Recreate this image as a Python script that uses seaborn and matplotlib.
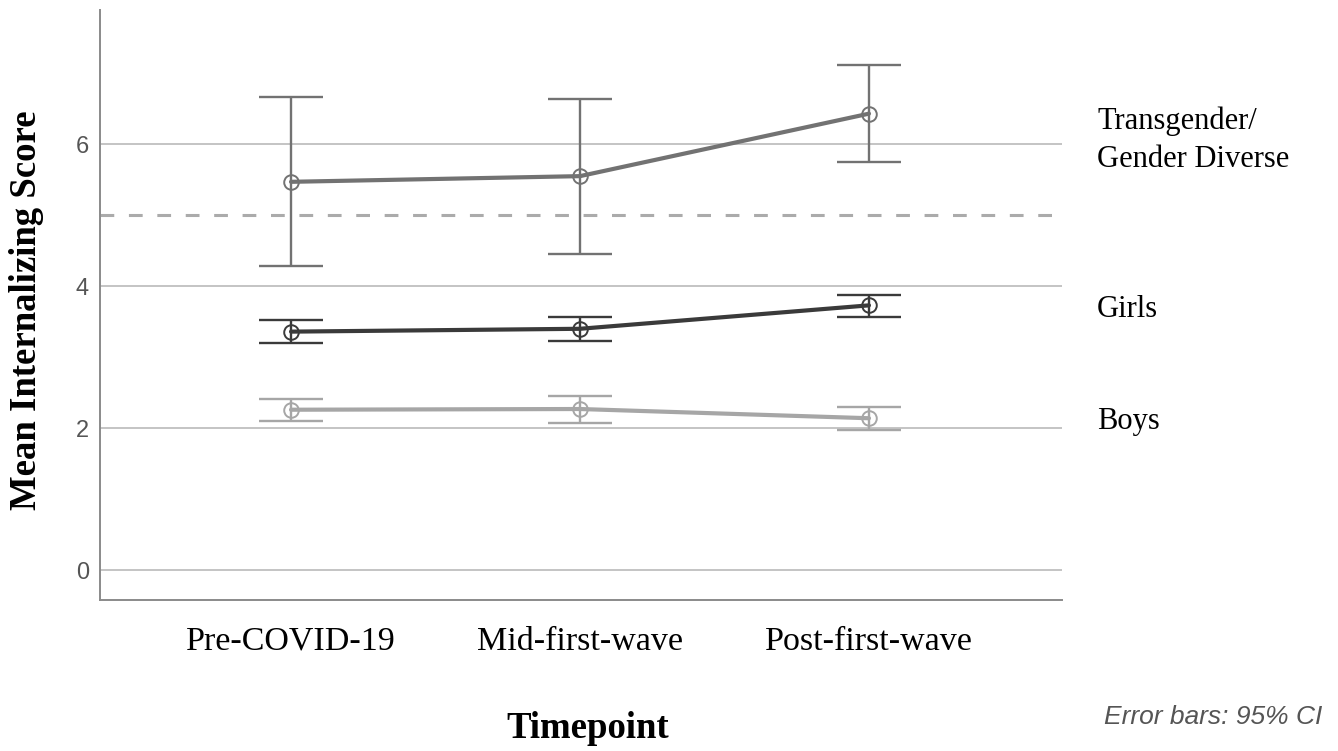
import matplotlib
matplotlib.use("Agg")
import matplotlib.pyplot as plt
import seaborn as sns
import pandas as pd
import numpy as np

timepoints = ["Pre-COVID-19", "Mid-first-wave", "Post-first-wave"]
groups = ["Transgender/\nGender Diverse", "Girls", "Boys"]
tgd_mean = [5.47, 5.55, 6.43]
tgd_lo = [4.28, 4.46, 5.75]
tgd_hi = [6.66, 6.64, 7.12]
girls_mean = [3.36, 3.40, 3.73]
girls_lo = [3.20, 3.23, 3.57]
girls_hi = [3.52, 3.56, 3.88]
boys_mean = [2.26, 2.27, 2.14]
boys_lo = [2.10, 2.08, 1.97]
boys_hi = [2.41, 2.45, 2.30]
cutoff = 5.0
yticks = [0, 2, 4, 6]

colors = {"Transgender/\nGender Diverse": "#727272", "Girls": "#3a3a3a", "Boys": "#a6a6a6"}
label_y = {"Transgender/\nGender Diverse": 140, "Girls": 309, "Boys": 421}

means = {groups[0]: tgd_mean, groups[1]: girls_mean, groups[2]: boys_mean}
los = {groups[0]: tgd_lo, groups[1]: girls_lo, groups[2]: boys_lo}
his = {groups[0]: tgd_hi, groups[1]: girls_hi, groups[2]: boys_hi}

rows = []
for g in groups:
    for t, m in zip(timepoints, means[g]):
        rows.append({"Timepoint": t, "Group": g, "Score": m})
df = pd.DataFrame(rows)

sns.set_theme(style="white")
plt.rcParams["font.family"] = ["Liberation Serif", "DejaVu Serif"]
plt.rcParams["text.color"] = "black"

W, H = 1338, 751
fig = plt.figure(figsize=(W / 100, H / 100), dpi=100)
ax = fig.add_axes([100 / W, 1 - 600 / H, (1062 - 100) / W, (600 - 10) / H])

# gridlines and cutoff line
for yv in yticks:
    ax.axhline(yv, color="#c4c4c4", lw=1.4, zorder=0)
ax.axhline(cutoff, color="#ababab", lw=2.2, dashes=(4.5, 4.8), zorder=0)

# error bars
for g in groups:
    m = np.array(means[g])
    lo = np.array(los[g])
    hi = np.array(his[g])
    ax.errorbar(np.arange(len(timepoints)), m, yerr=[m - lo, hi - m], fmt="none",
                ecolor=colors[g], elinewidth=1.7, capsize=23, capthick=1.7, zorder=2)

sns.pointplot(data=df, x="Timepoint", y="Score", hue="Group", order=timepoints,
              hue_order=groups, palette=colors, errorbar=None, markers="o",
              linestyles="-", legend=False, ax=ax, zorder=3)

for line in ax.lines:
    if line.get_marker() == "o":
        line.set_markerfacecolor("none")
        line.set_markersize(10.5)
        line.set_markeredgewidth(1.4)
        line.set_linewidth(3.0)

ax.set_xlim(-0.661, 2.668)
ax.set_ylim(-0.42, 7.89)
ax.set_yticks(yticks)
ax.set_yticklabels([str(v) for v in yticks], fontfamily="Liberation Sans",
                   fontsize=17, color="#555555")
ax.set_xticks(range(len(timepoints)))
ax.set_xticklabels(timepoints, fontsize=24.5, color="black")
ax.tick_params(axis="both", length=0)
ax.tick_params(axis="x", pad=19)
ax.tick_params(axis="y", pad=8)
ax.set_xlabel("")
ax.set_ylabel("")
ax.grid(False)

for s in ["top", "right"]:
    ax.spines[s].set_visible(False)
for s in ["left", "bottom"]:
    ax.spines[s].set_color("#8a8a8a")
    ax.spines[s].set_linewidth(1.4)

for g in groups:
    fig.text(1097 / W, 1 - label_y[g] / H, g, fontsize=22, color="black",
             ha="left", va="center", linespacing=1.4)

fig.text(27 / W, 1 - 310 / H, "Mean Internalizing Score", rotation=90,
         fontsize=26.5, fontweight="bold", ha="center", va="center", color="black")
fig.text(588 / W, 1 - 728 / H, "Timepoint", fontsize=26.5, fontweight="bold",
         ha="center", va="center", color="black")
fig.text(1322 / W, 1 - 717 / H, "Error bars: 95% CI", fontsize=19,
         fontfamily="Liberation Sans", style="italic", color="#555555",
         ha="right", va="center")

fig.savefig("out.png", dpi=100)
